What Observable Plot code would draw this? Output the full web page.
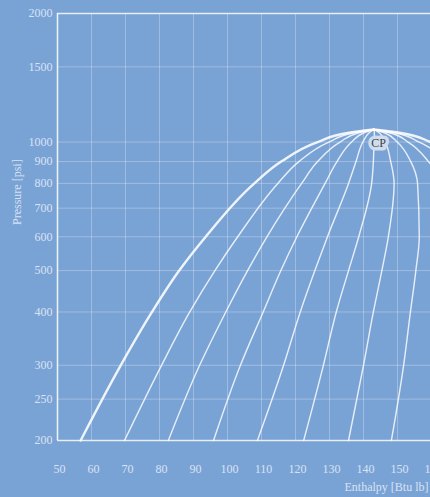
<!DOCTYPE html>
<html>
<head>
<meta charset="utf-8">
<script src="https://cdn.jsdelivr.net/npm/d3@7"></script>
<script src="https://cdn.jsdelivr.net/npm/@observablehq/plot@0.6"></script>
<style>
  html, body { margin: 0; padding: 0; background: #7aa3d5; overflow: hidden; }
  #chart svg { overflow: hidden; display: block; }
</style>
</head>
<body>
<div id="chart"></div>
<script>
// Tick values
const xTickLabels = [50, 60, 70, 80, 90, 100, 110, 120, 130, 140, 150, 160];
const xGrid = [50, 60, 70, 80, 90, 100, 110, 120, 130, 140, 150, 160, 170, 180, 190, 200];
const yTicks = [200, 250, 300, 400, 500, 600, 700, 800, 900, 1000, 1500, 2000];

// Pressure levels [psi] at which enthalpies were read
const pressures = [200, 300, 400, 500, 600, 800, 900, 1000, 1050];

// Enthalpy [Btu/lb] of each constant-quality line at those pressures
const hSatLiquid = [56.8, 68.6, 77.8, 85.8, 93.6, 107.9, 115.8, 126.5, 135.3];
const hQ10 = [69.7, 80.6, 88.9, 96.3, 103.0, 114.8, 121.0, 129.8, 136.9];
const hQ20 = [82.6, 91.8, 99.5, 105.9, 111.6, 121.8, 126.5, 133.1, 138.4];
const hQ30 = [95.9, 103.8, 110.5, 115.7, 120.4, 128.7, 132.2, 136.5, 140.0];
const hQ40 = [108.8, 116.5, 121.4, 125.7, 129.4, 135.6, 137.8, 139.8, 141.6];
const hQ50 = [122.4, 128.2, 132.0, 135.6, 138.6, 142.4, 142.9, 143.1, 143.2];
const hQ60 = [135.6, 140.0, 142.9, 145.4, 147.3, 149.0, 148.0, 146.4, 144.7];
const hQ70 = [148.2, 151.8, 153.8, 155.4, 156.4, 155.9, 153.9, 149.9, 146.3];
const hQ80 = [161.3, 163.7, 164.7, 165.4, 165.3, 163.0, 159.1, 153.1, 147.9];
const hQ90 = [174.3, 175.5, 175.6, 175.5, 174.6, 170.3, 164.6, 156.4, 149.4];
const hSatVapor = [187.4, 187.4, 186.5, 185.5, 183.6, 177.2, 170.0, 159.7, 151.0];

// Critical point
const cpEnthalpy = 143;
const cpPressure = 1070;
const cpLabel = "CP";

const qualityLines = [hQ10, hQ20, hQ30, hQ40, hQ50, hQ60, hQ70, hQ80, hQ90];
const domeLines = [hSatLiquid, hSatVapor];

// Build tables: each line runs from the critical point down to 200 psi
function toRows(arrays) {
  const rows = [];
  arrays.forEach((arr, i) => {
    rows.push({line: i, h: cpEnthalpy, p: cpPressure});
    for (let j = arr.length - 1; j >= 0; j--) rows.push({line: i, h: arr[j], p: pressures[j]});
  });
  return rows;
}
const interior = toRows(qualityLines);
const dome = toRows(domeLines);

const textFill = "#e9f0fa";

const chart = Plot.plot({
  width: 430,
  height: 497,
  marginLeft: 57,
  marginTop: 13,
  marginBottom: 57,
  marginRight: 0,
  x: {domain: [50, 200], range: [57, 567]},
  y: {type: "log", domain: [200, 2000]},
  style: {
    background: "#7aa3d5",
    fontFamily: "'Liberation Serif', 'Times New Roman', serif",
    fontSize: "12px",
    overflow: "hidden"
  },
  marks: [
    Plot.gridX(xGrid, {stroke: "white", strokeOpacity: 0.28, strokeWidth: 1}),
    Plot.gridY(yTicks, {stroke: "white", strokeOpacity: 0.28, strokeWidth: 1}),
    Plot.ruleX([50], {stroke: "white", strokeOpacity: 0.8, strokeWidth: 1.6}),
    Plot.ruleY([200, 2000], {stroke: "white", strokeOpacity: 0.75, strokeWidth: 1.6}),
    Plot.axisX(xTickLabels, {tickSize: 0, tickPadding: 24, label: null, fill: textFill, fillOpacity: 0.85, fontSize: 12, dx: 2}),
    Plot.axisY(yTicks, {tickSize: 0, tickPadding: 5, label: null, fill: textFill, fillOpacity: 0.85, fontSize: 12, tickFormat: d => String(d)}),
    Plot.line(interior, {x: "h", y: "p", z: "line", curve: "monotone-y", stroke: "white", strokeOpacity: 0.82, strokeWidth: 1.4}),
    Plot.line(dome, {x: "h", y: "p", z: "line", curve: "monotone-y", stroke: "white", strokeOpacity: 0.88, strokeWidth: 2.4}),
    Plot.text([cpLabel], {x: () => cpEnthalpy, y: () => cpPressure, text: d => d, dx: 5, dy: 14, fill: "#3a3f48", stroke: "#d3dfef", strokeWidth: 7, strokeOpacity: 0.95, fontSize: 12}),
    Plot.text(["Pressure [psi]"], {frameAnchor: "left", rotate: -90, dx: -40, dy: -2, fill: textFill, fillOpacity: 0.85, fontSize: 12}),
    Plot.text(["Enthalpy [Btu lb]"], {frameAnchor: "bottom-right", textAnchor: "end", lineAnchor: "middle", dx: -2, dy: 47, fill: textFill, fillOpacity: 0.85, fontSize: 12})
  ]
});
document.getElementById("chart").append(chart);
</script>
</body>
</html>
